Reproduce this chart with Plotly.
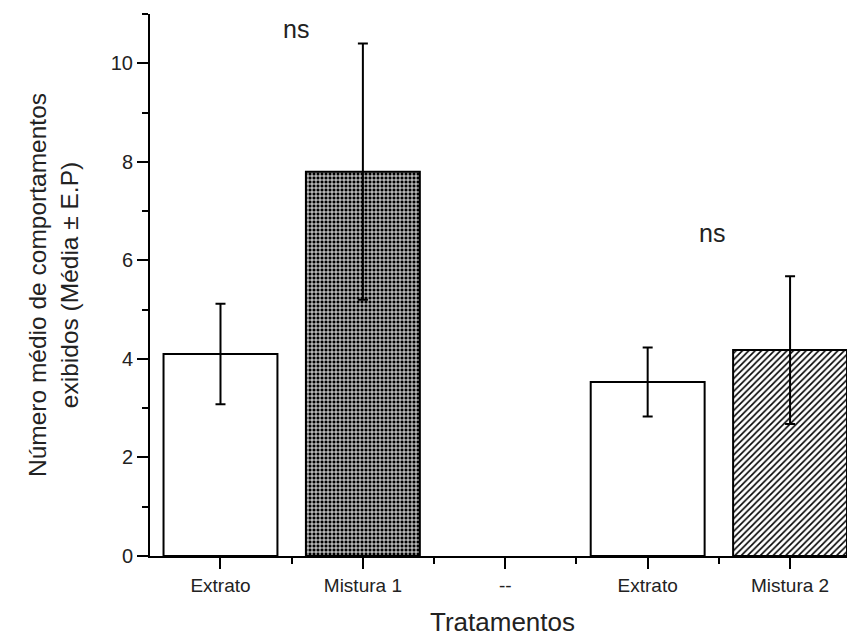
import plotly.graph_objects as go

categories = ["Extrato", "Mistura 1", "--", "Extrato", "Mistura 2"]
means = [4.1, 7.8, None, 3.53, 4.18]
errors = [1.02, 2.6, None, 0.7, 1.5]
pattern_shapes = ["", "+", "", "", "/"]
pattern_fg = ["black", "white", "black", "black", "black"]
pattern_bg = ["white", "black", "white", "white", "white"]
ns_labels = ["ns", "ns"]
ns_x = [0.53, 3.45]
ns_y = [10.7, 6.55]

xpos = list(range(len(categories)))

fig = go.Figure()
fig.add_trace(go.Bar(
    x=xpos, y=means, width=0.8,
    marker=dict(
        color="white",
        line=dict(color="black", width=2),
        pattern=dict(shape=pattern_shapes, fgcolor=pattern_fg, bgcolor=pattern_bg,
                     size=[4, 4, 4, 4, 4.5], solidity=[0.5, 0.4, 0.5, 0.5, 0.35],
                     fillmode="replace"),
    ),
    error_y=dict(type="data", array=errors, visible=True, color="black",
                 thickness=2, width=5),
    showlegend=False,
))

for t, x, y in zip(ns_labels, ns_x, ns_y):
    fig.add_annotation(x=x, y=y, text=t, showarrow=False,
                       font=dict(size=25, color="#222", family="Liberation Sans, Arial"))

fig.update_layout(
    width=847, height=630,
    margin=dict(l=142, r=0, t=6, b=82),
    plot_bgcolor="white", paper_bgcolor="white",
    font=dict(family="Liberation Sans, Arial", color="#222"),
    xaxis=dict(
        range=[-0.495, 4.456], automargin=False,
        tickmode="array", tickvals=xpos, ticktext=categories,
        tickfont=dict(size=19),
        ticks="outside", ticklen=11, tickwidth=2, tickcolor="black",
        minor=dict(tickmode="array", tickvals=[0.5, 1.5, 2.5, 3.5],
                   ticks="outside", ticklen=6, tickwidth=2, tickcolor="black"),
        showline=True, linecolor="black", linewidth=2,
        showgrid=False, zeroline=False,
        title=dict(text="Tratamentos", font=dict(size=26), standoff=18),
    ),
    yaxis=dict(
        range=[0, 11], automargin=False,
        tickmode="array", tickvals=[0, 2, 4, 6, 8, 10],
        tickfont=dict(size=20),
        ticks="outside", ticklen=11, tickwidth=2, tickcolor="black",
        minor=dict(tickmode="array", tickvals=[1, 3, 5, 7, 9, 11],
                   ticks="outside", ticklen=6, tickwidth=2, tickcolor="black"),
        showline=True, linecolor="black", linewidth=2,
        showgrid=False, zeroline=False,
        title=dict(text="Número médio de comportamentos<br>exibidos (Média ± E.P)",
                   font=dict(size=24.5), standoff=25),
    ),
)

fig.write_html("out.html")
